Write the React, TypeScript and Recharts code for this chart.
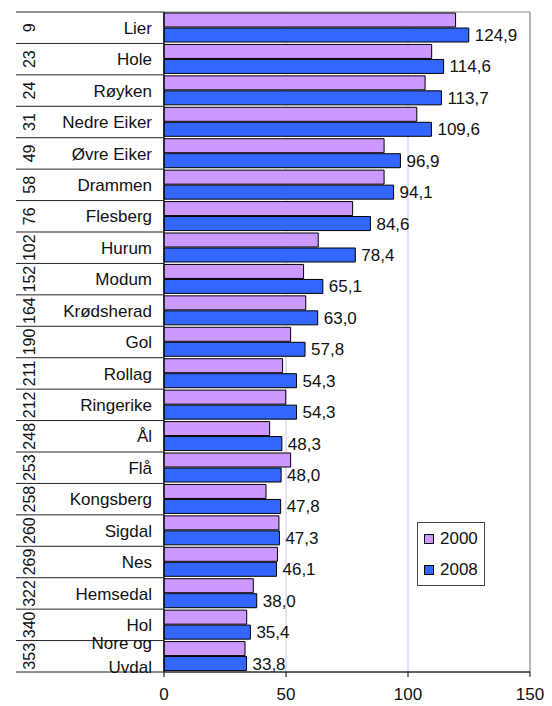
import {
  Bar,
  BarChart,
  CartesianGrid,
  LabelList,
  Legend,
  ReferenceArea,
  XAxis,
  YAxis,
} from "recharts";

const RANKS = [9, 23, 24, 31, 49, 58, 76, 102, 152, 164, 190, 211, 212, 248, 253, 258, 260, 269, 322, 340, 353];
const NAMES = [
  "Lier", "Hole", "Røyken", "Nedre Eiker", "Øvre Eiker", "Drammen", "Flesberg", "Hurum",
  "Modum", "Krødsherad", "Gol", "Rollag", "Ringerike", "Ål", "Flå", "Kongsberg", "Sigdal",
  "Nes", "Hemsedal", "Hol", "Nore og Uvdal",
];
const V2000 = [119.5, 109.7, 107.0, 103.6, 90.2, 90.2, 77.3, 63.2, 57.2, 58.1, 51.9, 48.6, 49.9, 43.3, 51.9, 41.8, 47.1, 46.5, 36.6, 33.9, 33.2];
const V2008 = [124.9, 114.6, 113.7, 109.6, 96.9, 94.1, 84.6, 78.4, 65.1, 63.0, 57.8, 54.3, 54.3, 48.3, 48.0, 47.8, 47.3, 46.1, 38.0, 35.4, 33.8];
const X_TICKS = [0, 50, 100, 150];

const data = NAMES.map((name, i) => ({ name, y2000: V2000[i], y2008: V2008[i] }));

const W = 552;
const H = 706;
const TOP = 12;
const BOTTOM = 34;
const LEFT = 164;
const BAND = (H - TOP - BOTTOM) / NAMES.length;
const FONT = "'Liberation Sans', Arial, sans-serif";

const fmt = (v: number) => v.toFixed(1).replace(".", ",");

function CategoryTick({ y, payload, index }: any) {
  const name: string = payload.value;
  const top = y - BAND / 2;
  const last = index === NAMES.length - 1;
  let lines = [name];
  if (name.length > 11) {
    const cut = name.lastIndexOf(" ");
    lines = [name.slice(0, cut), name.slice(cut + 1)];
  }
  return (
    <g>
      <line x1={16} x2={LEFT} y1={top} y2={top} stroke="#222" />
      {last && <line x1={16} x2={LEFT} y1={top + BAND} y2={top + BAND} stroke="#222" />}
      <text
        x={35}
        y={y}
        transform={`rotate(-90, 35, ${y})`}
        textAnchor="middle"
        fontSize={16}
        fill="#111"
      >
        {RANKS[index]}
      </text>
      {lines.length === 1 ? (
        <text x={152} y={y} dy="0.36em" textAnchor="end" fontSize={17} fill="#111">
          {name}
        </text>
      ) : (
        <text textAnchor="end" fontSize={17} fill="#111">
          <tspan x={152} y={y - 13} dy="0.36em">{lines[0]}</tspan>
          <tspan x={152} y={y + 11} dy="0.36em">{lines[1]}</tspan>
        </text>
      )}
    </g>
  );
}

function LegendBox() {
  const items = [
    { label: "2000", color: "#cc99ff" },
    { label: "2008", color: "#3366ff" },
  ];
  return (
    <div
      style={{
        border: "1px solid #444",
        background: "#fff",
        padding: "0 0 0 6px",
        fontFamily: FONT,
        fontSize: 17,
        width: 60,
      }}
    >
      {items.map((it) => (
        <div key={it.label} style={{ display: "flex", alignItems: "center", height: 31 }}>
          <span
            style={{
              width: 8,
              height: 8,
              background: it.color,
              border: "1px solid #000",
              marginRight: 6,
            }}
          />
          <span style={{ color: "#111" }}>{it.label}</span>
        </div>
      ))}
    </div>
  );
}

export default function App() {
  return (
    <div style={{ position: "absolute", left: 0, top: 0, background: "#fff" }}>
      <BarChart
        width={W}
        height={H}
        data={data}
        layout="vertical"
        margin={{ top: TOP, right: W - 530, bottom: 0, left: 0 }}
        barSize={14}
        barGap={1}
        style={{ fontFamily: FONT }}
      >
        <CartesianGrid horizontal={false} stroke="#c8c8f0" />
        <ReferenceArea x1={0} x2={150} fill="none" stroke="#888" strokeOpacity={1} />
        <XAxis
          type="number"
          domain={[0, 150]}
          ticks={X_TICKS}
          height={BOTTOM}
          axisLine={{ stroke: "#000" }}
          tickLine={{ stroke: "#000" }}
          tickSize={5}
          tickMargin={11}
          tick={{ fill: "#111", fontSize: 17 }}
        />
        <YAxis
          type="category"
          dataKey="name"
          width={LEFT}
          axisLine={{ stroke: "#000" }}
          tickLine={false}
          interval={0}
          tick={<CategoryTick />}
        />
        <Legend
          layout="vertical"
          align="center"
          verticalAlign="middle"
          wrapperStyle={{ left: 417, top: 522, width: "auto" }}
          content={() => <LegendBox />}
        />
        <Bar dataKey="y2000" name="2000" fill="#cc99ff" stroke="#000" strokeWidth={1} isAnimationActive={false} />
        <Bar dataKey="y2008" name="2008" fill="#3366ff" stroke="#000" strokeWidth={1} isAnimationActive={false}>
          <LabelList
            dataKey="y2008"
            position="right"
            offset={6}
            fontSize={17}
            fill="#111"
            formatter={(v: any) => fmt(Number(v))}
          />
        </Bar>
      </BarChart>
    </div>
  );
}
